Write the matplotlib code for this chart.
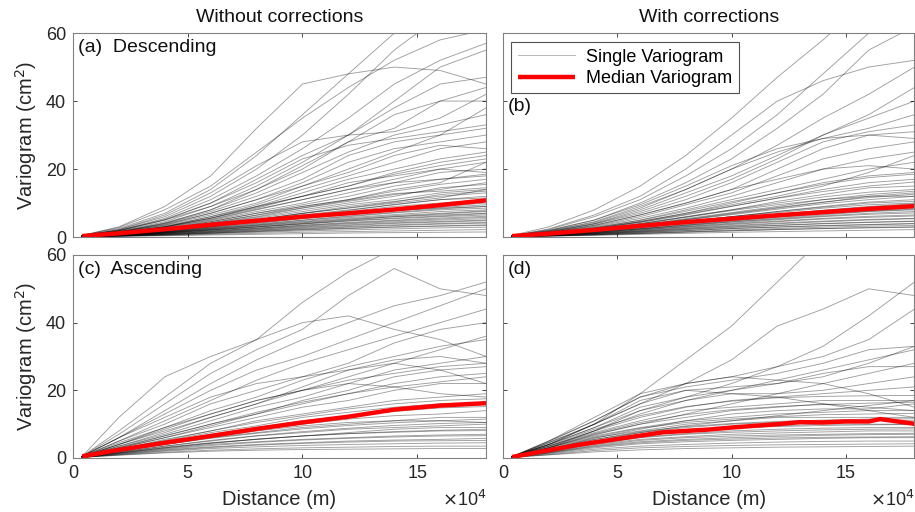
import numpy as np
from matplotlib import pyplot as plt

plt.rcParams['font.family'] = ['Liberation Sans', 'DejaVu Sans']

# distance sampling of the single variograms (m)
dist = [4000, 20000, 40000, 60000, 80000, 100000, 120000, 140000, 160000, 180000]

# (a) descending, without corrections
desc_raw = [
    [0.5, 3.0, 9.0, 18, 32, 45, 48, 50, 49, 45],
    [0.5, 2.5, 7.0, 14, 24, 36, 48, 60, 70, 75],
    [0.4, 2.2, 6.0, 12, 20, 30, 42, 55, 65, 70],
    [0.4, 2.0, 5.5, 11, 18, 26, 35, 45, 52, 57],
    [0.4, 2.0, 5.0, 10, 17, 24, 30, 40, 50, 55],
    [0.4, 1.8, 5.0, 9.0, 15, 22, 30, 38, 45, 47],
    [0.4, 1.8, 4.5, 9.0, 14, 20, 28, 32, 40, 44],
    [0.3, 1.6, 4.2, 8.0, 13, 19, 25, 30, 33, 36],
    [0.3, 1.6, 4.0, 7.5, 12, 17, 24, 28, 30, 32],
    [0.3, 1.5, 3.8, 7.0, 11, 16, 22, 26, 28, 30],
    [0.3, 1.5, 3.5, 6.5, 10, 15, 20, 25, 30, 38],
    [0.3, 1.4, 3.3, 6.0, 9.5, 14, 18, 22, 26, 28],
    [0.3, 1.3, 3.0, 5.5, 9.0, 13, 17, 20, 23, 25],
    [0.3, 1.3, 3.0, 5.5, 8.5, 12, 15, 19, 22, 24],
    [0.3, 1.2, 2.8, 5.0, 8.0, 11, 14, 17, 20, 22],
    [0.3, 1.2, 2.6, 4.8, 7.5, 10, 13, 16, 19, 20],
    [0.3, 1.1, 2.5, 4.5, 7.0, 9.5, 12, 15, 17, 18],
    [0.2, 1.0, 2.3, 4.2, 6.5, 9.0, 11, 13.5, 15.5, 17],
    [0.2, 1.0, 2.2, 4.0, 6.0, 8.5, 10.5, 12.5, 14, 16],
    [0.2, 0.9, 2.0, 3.7, 5.5, 7.5, 9.5, 11, 13, 14],
    [0.2, 0.9, 2.0, 3.5, 5.2, 7.0, 9.0, 10.5, 12, 13],
    [0.2, 0.8, 1.8, 3.2, 4.8, 6.5, 8.0, 9.5, 11, 12],
    [0.2, 0.8, 1.7, 3.0, 4.5, 6.0, 7.5, 9.0, 10, 11],
    [0.2, 0.7, 1.6, 2.8, 4.2, 5.5, 7.0, 8.0, 9.0, 10],
    [0.2, 0.7, 1.5, 2.6, 3.8, 5.0, 6.2, 7.3, 8.3, 9.0],
    [0.2, 0.6, 1.4, 2.4, 3.5, 4.6, 5.7, 6.6, 7.5, 8.0],
    [0.2, 0.6, 1.3, 2.2, 3.2, 4.2, 5.2, 6.0, 6.8, 7.5],
    [0.1, 0.5, 1.2, 2.0, 2.9, 3.8, 4.7, 5.4, 6.0, 6.5],
    [0.1, 0.5, 1.1, 1.8, 2.6, 3.4, 4.1, 4.8, 5.3, 5.8],
    [0.1, 0.4, 1.0, 1.6, 2.3, 3.0, 3.6, 4.2, 4.6, 5.0],
    [0.1, 0.4, 0.9, 1.4, 2.0, 2.6, 3.1, 3.6, 4.0, 4.3],
    [0.1, 0.3, 0.8, 1.2, 1.7, 2.2, 2.6, 3.0, 3.3, 3.6],
    [0.1, 0.3, 0.6, 1.0, 1.4, 1.8, 2.1, 2.4, 2.7, 2.9],
    [0.1, 0.3, 0.5, 0.8, 1.1, 1.4, 1.6, 1.8, 2.0, 2.2],
    [0.1, 0.2, 0.4, 0.6, 0.8, 1.0, 1.2, 1.3, 1.4, 1.5],
    [0.4, 2.2, 6.5, 13, 21, 28, 30, 31, 35, 42],
    [0.4, 1.9, 5.2, 10, 16, 23, 27, 29, 31, 33],
    [0.3, 1.4, 3.6, 7.0, 11, 15, 19, 24, 27, 26],
    [0.3, 1.2, 3.0, 6.0, 9.0, 12, 16, 18, 20, 19],
    [0.2, 1.0, 2.4, 4.5, 7.0, 9.0, 11, 14, 16, 22],
    [0.2, 0.8, 1.9, 3.4, 5.0, 7.0, 8.5, 10, 11.5, 14],
    [0.2, 0.7, 1.6, 3.0, 4.5, 6.0, 7.0, 7.8, 8.5, 9.0],
    [0.5, 2.8, 8.0, 15, 25, 35, 44, 52, 58, 61],
    [0.3, 1.5, 4.0, 8.0, 14, 21, 28, 36, 40, 40],
    [0.1, 0.5, 1.2, 2.1, 3.0, 4.0, 5.0, 6.0, 6.5, 7.0],
    [0.2, 0.9, 2.1, 3.8, 5.8, 8.0, 10, 12, 14.5, 15.5],
    [0.2, 0.8, 1.9, 3.4, 5.1, 6.9, 8.6, 10.3, 12.5, 13.5],
    [0.2, 0.7, 1.7, 3.1, 4.6, 6.2, 7.8, 9.6, 11, 11.5],
    [0.2, 0.7, 1.5, 2.7, 4.0, 5.4, 6.6, 7.7, 8.7, 9.5],
    [0.1, 0.6, 1.4, 2.5, 3.6, 4.9, 6.0, 7.1, 8.0, 8.5],
    [0.1, 0.6, 1.3, 2.3, 3.4, 4.4, 5.4, 6.3, 7.0, 7.7],
    [0.1, 0.5, 1.2, 2.1, 3.0, 3.9, 4.8, 5.6, 6.2, 6.9],
    [0.1, 0.5, 1.0, 1.8, 2.6, 3.5, 4.3, 5.0, 5.6, 6.1],
    [0.1, 0.4, 0.9, 1.6, 2.4, 3.2, 3.9, 4.5, 5.0, 5.4],
    [0.1, 0.4, 0.8, 1.4, 2.1, 2.8, 3.4, 4.0, 4.4, 4.8],
    [0.1, 0.3, 0.7, 1.2, 1.8, 2.4, 2.9, 3.4, 3.8, 4.1],
    [0.1, 0.3, 0.6, 1.1, 1.6, 2.1, 2.5, 2.9, 3.2, 3.4],
    [0.3, 1.3, 3.1, 5.6, 8.8, 12, 15, 18.5, 21, 23],
    [0.3, 1.2, 2.9, 5.2, 8.2, 11, 14, 16, 17, 18.5],
    [0.2, 1.0, 2.3, 4.1, 6.4, 8.6, 10.8, 12.8, 13.5, 14.5],
]

# (b) descending, with corrections
desc_corr = [
    [0.5, 3.0, 8.0, 15, 24, 35, 47, 58, 70, 75],
    [0.4, 2.2, 6.0, 11, 18, 26, 36, 48, 60, 68],
    [0.4, 2.0, 5.0, 10, 16, 23, 32, 42, 55, 62],
    [0.4, 1.8, 4.5, 9.0, 14, 20, 27, 35, 42, 50],
    [0.3, 1.6, 4.0, 8.0, 13, 18, 24, 30, 35, 40],
    [0.3, 1.5, 3.8, 7.0, 11, 16, 22, 28, 31, 33],
    [0.3, 1.4, 3.5, 6.5, 10, 14, 20, 26, 30, 31],
    [0.3, 1.3, 3.2, 6.0, 9.5, 13, 18, 23, 26, 28],
    [0.3, 1.2, 3.0, 5.5, 8.5, 12, 16, 20, 23, 25],
    [0.3, 1.2, 2.8, 5.0, 8.0, 11, 14, 17, 20, 22],
    [0.2, 1.1, 2.6, 4.6, 7.0, 10, 13, 16, 18, 19],
    [0.2, 1.0, 2.4, 4.3, 6.5, 9.0, 11.5, 14, 16, 17],
    [0.2, 1.0, 2.2, 4.0, 6.0, 8.0, 10.5, 12.5, 14.5, 15],
    [0.2, 0.9, 2.0, 3.6, 5.4, 7.2, 9.0, 11, 12.5, 13.5],
    [0.2, 0.8, 1.9, 3.3, 5.0, 6.6, 8.2, 9.8, 11, 12],
    [0.2, 0.8, 1.7, 3.0, 4.5, 6.0, 7.5, 8.8, 10, 10.5],
    [0.2, 0.7, 1.6, 2.8, 4.1, 5.4, 6.7, 7.8, 8.8, 9.5],
    [0.2, 0.7, 1.5, 2.5, 3.7, 4.9, 6.0, 7.0, 7.8, 8.5],
    [0.1, 0.6, 1.3, 2.3, 3.3, 4.4, 5.3, 6.2, 7.0, 7.5],
    [0.1, 0.6, 1.2, 2.1, 3.0, 3.9, 4.7, 5.5, 6.1, 6.5],
    [0.1, 0.5, 1.1, 1.8, 2.6, 3.4, 4.1, 4.7, 5.2, 5.5],
    [0.1, 0.5, 1.0, 1.6, 2.3, 3.0, 3.5, 4.0, 4.4, 4.7],
    [0.1, 0.4, 0.8, 1.4, 1.9, 2.5, 2.9, 3.3, 3.6, 3.9],
    [0.1, 0.3, 0.7, 1.1, 1.5, 1.9, 2.2, 2.5, 2.8, 3.0],
    [0.1, 0.3, 0.5, 0.8, 1.1, 1.4, 1.6, 1.8, 2.0, 2.2],
    [0.4, 1.9, 5.0, 9.5, 15, 21, 26, 29, 30, 29],
    [0.3, 1.5, 3.9, 7.5, 12, 17, 23, 30, 36, 44],
    [0.3, 1.3, 3.4, 6.5, 10, 14, 17, 20, 21, 20],
    [0.2, 1.1, 2.5, 4.5, 7.0, 9.5, 12, 15, 19, 24],
    [0.2, 0.9, 2.1, 3.8, 5.8, 7.8, 9.5, 11, 12, 12],
    [0.2, 0.8, 1.8, 3.1, 4.6, 6.0, 7.2, 8.5, 9.5, 10],
    [0.1, 0.6, 1.4, 2.4, 3.5, 4.5, 5.5, 6.5, 7.5, 8.0],
    [0.4, 2.4, 6.5, 12, 20, 30, 40, 46, 50, 52],
    [0.3, 1.7, 4.3, 8.5, 14, 20, 25, 29, 32, 36],
    [0.2, 0.8, 1.9, 3.4, 5.1, 6.8, 8.5, 10.2, 12, 13],
    [0.2, 0.7, 1.7, 3.0, 4.5, 6.0, 7.5, 9.0, 10.3, 11],
    [0.2, 0.7, 1.5, 2.7, 4.0, 5.3, 6.6, 7.9, 9.0, 9.8],
    [0.1, 0.6, 1.4, 2.4, 3.5, 4.7, 5.8, 6.8, 7.6, 8.2],
    [0.1, 0.6, 1.2, 2.1, 3.1, 4.1, 5.1, 6.0, 6.7, 7.1],
    [0.1, 0.5, 1.1, 1.9, 2.8, 3.7, 4.5, 5.3, 5.8, 6.2],
    [0.1, 0.5, 1.0, 1.7, 2.5, 3.2, 3.9, 4.5, 5.0, 5.4],
    [0.1, 0.4, 0.9, 1.5, 2.2, 2.8, 3.4, 3.9, 4.3, 4.6],
    [0.1, 0.4, 0.8, 1.3, 1.9, 2.5, 3.0, 3.4, 3.7, 4.0],
    [0.1, 0.3, 0.7, 1.1, 1.6, 2.1, 2.5, 2.9, 3.2, 3.4],
    [0.1, 0.3, 0.6, 1.0, 1.4, 1.8, 2.2, 2.5, 2.7, 2.9],
    [0.3, 1.1, 2.7, 4.9, 7.6, 10.4, 13, 15.5, 17.5, 18.5],
    [0.2, 1.0, 2.5, 4.4, 6.7, 9.1, 11.4, 13.4, 15, 16.2],
    [0.2, 0.9, 2.2, 3.9, 5.9, 8.0, 10, 11.8, 13.2, 14],
    [0.2, 0.8, 1.9, 3.5, 5.2, 7.0, 8.7, 10.3, 11.6, 12.6],
]

# (c) ascending, without corrections
asc_raw = [
    [0.5, 12, 24, 30, 35, 40, 42, 38, 35, 30],
    [0.5, 8.0, 18, 28, 35, 46, 55, 62, 62, 60],
    [0.5, 7.0, 16, 25, 32, 38, 48, 56, 50, 48],
    [0.5, 6.0, 14, 22, 29, 35, 40, 45, 48, 52],
    [0.5, 6.0, 13, 20, 26, 30, 35, 40, 45, 50],
    [0.4, 5.0, 11, 17, 23, 28, 32, 36, 40, 44],
    [0.4, 5.0, 10, 16, 20, 24, 28, 34, 38, 40],
    [0.4, 4.0, 9.0, 14, 18, 23, 27, 30, 33, 35],
    [0.4, 4.0, 8.0, 12, 16, 21, 26, 29, 30, 28],
    [0.4, 3.5, 7.0, 11, 15, 18, 22, 26, 28, 30],
    [0.4, 3.0, 6.5, 10, 13, 16, 19, 22, 24, 25],
    [0.4, 3.0, 6.0, 9.0, 12, 15, 17, 20, 22, 22],
    [0.3, 2.5, 5.5, 8.0, 11, 13, 15, 17, 18, 19],
    [0.3, 2.5, 5.0, 7.5, 9.5, 12, 13.5, 15, 16, 16],
    [0.3, 2.2, 4.5, 6.5, 8.5, 10, 11.5, 12.5, 13, 14],
    [0.3, 2.0, 4.0, 6.0, 7.5, 9.0, 10, 11, 12, 12],
    [0.3, 1.8, 3.5, 5.0, 6.5, 7.5, 8.5, 9.0, 9.5, 10],
    [0.3, 1.6, 3.2, 4.5, 5.5, 6.5, 7.2, 7.8, 8.2, 8.5],
    [0.2, 1.4, 2.8, 4.0, 4.8, 5.5, 6.0, 6.5, 6.8, 7.0],
    [0.2, 1.2, 2.4, 3.3, 4.0, 4.5, 5.0, 5.3, 5.5, 5.8],
    [0.2, 1.0, 2.0, 2.8, 3.3, 3.7, 4.0, 4.2, 4.4, 4.5],
    [0.2, 0.9, 1.7, 2.3, 2.7, 3.0, 3.2, 3.4, 3.5, 3.5],
    [0.2, 0.8, 1.5, 2.0, 2.3, 2.5, 2.6, 2.7, 2.8, 2.8],
    [0.4, 4.5, 9.0, 13, 17, 20, 22, 21, 19, 18],
    [0.4, 3.5, 7.5, 12, 16, 20, 24, 28, 32, 36],
    [0.3, 2.8, 6.0, 9.5, 13, 17, 20, 24, 26, 27],
    [0.3, 2.0, 4.2, 6.2, 8.0, 9.5, 10.5, 11, 11, 10.5],
    [0.3, 1.5, 3.0, 4.3, 5.5, 6.5, 7.5, 8.5, 9.0, 9.0],
    [0.5, 6.0, 12, 18, 22, 24, 26, 28, 26, 22],
    [0.4, 4.0, 8.5, 13, 17, 20, 23, 25, 27, 28],
    [0.3, 2.0, 4.0, 5.8, 7.3, 8.6, 9.6, 10.4, 11, 11.5],
    [0.3, 1.7, 3.5, 5.2, 6.6, 7.8, 8.8, 9.6, 10.2, 10.5],
    [0.3, 1.5, 3.0, 4.4, 5.6, 6.5, 7.2, 7.6, 8.0, 8.1],
    [0.2, 1.3, 2.6, 3.7, 4.6, 5.3, 5.8, 6.2, 6.5, 6.6],
    [0.2, 1.1, 2.2, 3.1, 3.8, 4.3, 4.7, 5.0, 5.1, 5.2],
    [0.3, 2.6, 5.2, 8.0, 10.5, 12.5, 14.5, 16, 17, 17.5],
    [0.3, 2.3, 4.6, 7.0, 9.0, 11, 12.5, 13.8, 14.8, 15.2],
    [0.4, 3.2, 6.6, 10, 13.5, 16.5, 19, 21, 22.5, 24],
]

# (d) ascending, with corrections
asc_corr = [
    [0.5, 4.0, 10, 19, 29, 39, 52, 65, 75, 80],
    [0.4, 4.0, 10, 16, 22, 29, 39, 44, 50, 48],
    [0.4, 3.0, 8.0, 14, 18, 22, 27, 33, 42, 52],
    [0.4, 5.0, 12, 19, 22, 24, 27, 30, 35, 44],
    [0.4, 5.0, 11, 18, 21, 23, 25, 28, 32, 33],
    [0.4, 4.5, 10, 16, 20, 21, 22, 24, 28, 33],
    [0.4, 4.0, 9.0, 15, 18, 20, 22, 25, 27, 27],
    [0.4, 4.0, 9.0, 14, 17, 19, 19, 20, 22, 24],
    [0.4, 3.5, 8.0, 12, 15, 17, 18, 19, 20, 21],
    [0.3, 3.5, 7.5, 11, 14, 15, 16, 17, 17, 17],
    [0.3, 3.0, 7.0, 10, 12, 14, 15, 16, 15, 14],
    [0.3, 3.0, 6.5, 9.0, 11, 12, 13, 13.5, 14, 14],
    [0.3, 2.5, 6.0, 8.0, 10, 11, 12, 12, 12, 12],
    [0.3, 2.5, 5.5, 7.5, 9.0, 10, 10.5, 11, 11, 11],
    [0.3, 2.2, 5.0, 7.0, 8.0, 9.0, 9.5, 10, 10, 10],
    [0.3, 2.0, 4.5, 6.2, 7.2, 8.0, 8.5, 8.8, 9.0, 9.0],
    [0.3, 1.8, 4.0, 5.5, 6.3, 7.0, 7.4, 7.7, 8.0, 8.0],
    [0.2, 1.6, 3.5, 4.8, 5.5, 6.0, 6.4, 6.7, 6.9, 7.0],
    [0.2, 1.4, 3.0, 4.2, 4.8, 5.2, 5.5, 5.8, 6.0, 6.0],
    [0.2, 1.2, 2.6, 3.5, 4.0, 4.4, 4.7, 4.9, 5.0, 5.0],
    [0.2, 1.0, 2.2, 3.0, 3.4, 3.7, 3.9, 4.0, 4.1, 4.2],
    [0.2, 0.9, 1.8, 2.4, 2.8, 3.0, 3.2, 3.3, 3.4, 3.5],
    [0.4, 4.5, 10, 17, 20, 19, 18, 16, 14, 12],
    [0.4, 3.5, 8.0, 13, 17, 20, 23, 26, 29, 32],
    [0.3, 3.0, 6.8, 10, 13, 16, 19, 22, 25, 28],
    [0.3, 2.5, 5.8, 8.5, 11, 13, 14, 14.5, 14.5, 16],
    [0.3, 2.2, 5.0, 7.5, 9.5, 11, 12.5, 14, 15.5, 17],
    [0.4, 4.8, 11, 18, 22, 24, 23, 22, 19, 15],
    [0.3, 2.8, 6.2, 8.8, 10.5, 11.5, 12.2, 12.8, 13, 13.2],
    [0.3, 2.4, 5.4, 7.8, 9.3, 10.2, 10.8, 11.2, 11.5, 11.6],
    [0.3, 2.1, 4.8, 6.8, 8.0, 8.8, 9.3, 9.6, 9.8, 9.9],
    [0.3, 1.9, 4.2, 6.0, 7.0, 7.6, 8.0, 8.3, 8.5, 8.6],
    [0.2, 1.7, 3.7, 5.2, 6.0, 6.5, 6.8, 7.0, 7.2, 7.3],
    [0.2, 1.5, 3.3, 4.5, 5.2, 5.6, 5.9, 6.1, 6.2, 6.3],
    [0.3, 3.2, 7.2, 10.5, 12.8, 14.3, 15.2, 15.8, 16.2, 16.5],
    [0.4, 3.8, 8.5, 12.5, 15.2, 16.8, 17.8, 18.2, 18.4, 18.5],
]

# median variograms
med_dist = [4000, 20000, 40000, 60000, 80000, 100000, 120000, 140000, 160000, 180000]
med_desc_raw = [0.3, 1.1, 2.3, 3.6, 4.8, 6.0, 7.0, 8.1, 9.4, 10.8]
med_desc_corr = [0.3, 1.0, 2.1, 3.3, 4.4, 5.4, 6.4, 7.3, 8.3, 9.1]
med_asc_raw = [0.5, 2.4, 4.5, 6.5, 8.6, 10.5, 12.2, 14.3, 15.5, 16.2]
med_dist_d = [4000, 20000, 33000, 50000, 70000, 90000, 100000, 120000, 130000,
              140000, 150000, 160000, 165000, 180000]
med_asc_corr = [0.3, 2.3, 3.9, 5.6, 7.6, 8.4, 9.0, 10.0, 10.6, 10.5, 10.8, 10.8, 11.5, 10.1]

fig = plt.figure(figsize=(9.15, 5.12), dpi=100)
ax_a = fig.add_axes([0.0798, 0.537, 0.4514, 0.3984])
ax_b = fig.add_axes([0.5497, 0.537, 0.4497, 0.3984])
ax_c = fig.add_axes([0.0798, 0.1055, 0.4514, 0.3965])
ax_d = fig.add_axes([0.5497, 0.1055, 0.4497, 0.3965])

panels = [
    (ax_a, desc_raw, med_dist, med_desc_raw, '(a)  Descending'),
    (ax_b, desc_corr, med_dist, med_desc_corr, '(b)'),
    (ax_c, asc_raw, med_dist, med_asc_raw, '(c)  Ascending'),
    (ax_d, asc_corr, med_dist_d, med_asc_corr, '(d)'),
]

x = np.array(dist) / 1e4
for ax, lines, mx, my, lab in panels:
    for i, v in enumerate(lines):
        ax.plot(x, v, color='black', alpha=0.38, lw=0.65,
                label='Single Variogram' if i == 0 else None)
    ax.plot(np.array(mx) / 1e4, my, color=(1, 0, 0), lw=3.2, label='Median Variogram',
            solid_capstyle='butt')
    ax.set_xlim(0, 18)
    ax.set_ylim(0, 60)
    ax.set_xticks([0, 5, 10, 15])
    ax.set_yticks([0, 20, 40, 60])
    ax.tick_params(direction='in', top=True, right=True, length=3,
                   labelsize=13, colors='#262626', width=0.6, pad=5)
    for s in ax.spines.values():
        s.set_color('#808080')
        s.set_linewidth(0.8)
    ypos = 0.93 if lab != '(b)' else 0.64
    ax.text(0.012, ypos, lab, transform=ax.transAxes, fontsize=14,
            va='center', ha='left', color='#111111')

ax_a.set_xticklabels([])
ax_b.set_xticklabels([])
ax_b.set_yticklabels([])
ax_d.set_yticklabels([])

ax_a.set_ylabel('Variogram (cm$^2$)', fontsize=14.5, color='#262626', labelpad=5)
ax_c.set_ylabel('Variogram (cm$^2$)', fontsize=14.5, color='#262626', labelpad=5)
ax_c.set_xlabel('Distance (m)', fontsize=14.5, color='#262626', labelpad=6)
ax_d.set_xlabel('Distance (m)', fontsize=14.5, color='#262626', labelpad=6)
ax_a.set_title('Without corrections', fontsize=14, color='#111111', pad=8)
ax_b.set_title('With corrections', fontsize=14, color='#111111', pad=8)

for ax in [ax_c, ax_d]:
    ax.text(1.0, -0.205, r'$\times$10$^4$', transform=ax.transAxes, fontsize=13,
            ha='right', va='center', color='#262626')

leg = ax_b.legend(loc='upper left', bbox_to_anchor=(0.02, 0.955), fontsize=13,
                  frameon=True, fancybox=False, borderpad=0.35, handlelength=3.2,
                  labelspacing=0.25, handletextpad=0.6, borderaxespad=0)
leg.get_frame().set_edgecolor('#262626')
leg.get_frame().set_linewidth(0.8)
leg.legend_handles[0].set_alpha(0.3)

plt.savefig('out.png', dpi=100)
